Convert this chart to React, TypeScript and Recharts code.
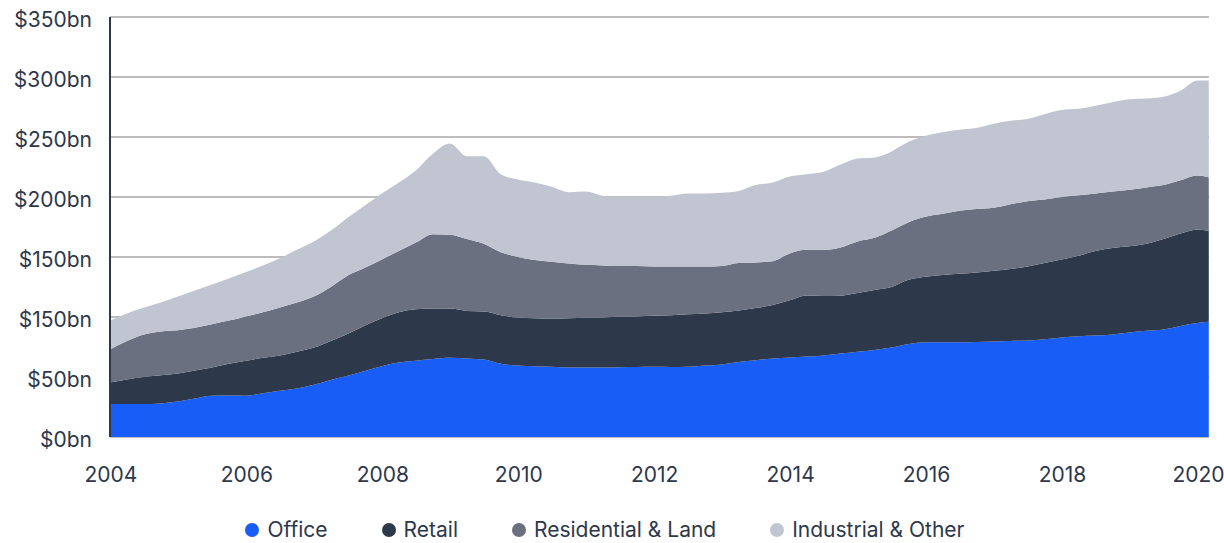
import { AreaChart, Area, XAxis, YAxis, CartesianGrid } from 'recharts'

// quarterly observations, last point is March 2020
const periods = [
  '2004-01', '2004-04', '2004-07', '2004-10', '2005-01', '2005-04', '2005-07', '2005-10',
  '2006-01', '2006-04', '2006-07', '2006-10', '2007-01', '2007-04', '2007-07', '2007-10',
  '2008-01', '2008-04', '2008-07', '2008-10', '2009-01', '2009-04', '2009-07', '2009-10',
  '2010-01', '2010-04', '2010-07', '2010-10', '2011-01', '2011-04', '2011-07', '2011-10',
  '2012-01', '2012-04', '2012-07', '2012-10', '2013-01', '2013-04', '2013-07', '2013-10',
  '2014-01', '2014-04', '2014-07', '2014-10', '2015-01', '2015-04', '2015-07', '2015-10',
  '2016-01', '2016-04', '2016-07', '2016-10', '2017-01', '2017-04', '2017-07', '2017-10',
  '2018-01', '2018-04', '2018-07', '2018-10', '2019-01', '2019-04', '2019-07', '2019-10',
  '2020-01', '2020-03',
]

const office = [
  27.5, 27.5, 27.5, 28, 29.5, 32, 34.4, 34.5, 34.4, 36.5, 38.5, 40.5, 43.5, 47.5, 51, 55,
  59, 62, 63.5, 65, 66, 65.5, 64.5, 61, 59.5, 59, 58.5, 58, 58, 58, 58.2, 58.4,
  58.5, 58.3, 58.5, 59.5, 60.5, 62.5, 64, 65.5, 66.3, 67, 68, 69.5, 71, 72.5, 74.5, 77.5,
  79, 79, 79, 79.2, 79.5, 80, 80.5, 81.5, 83, 84, 84.5, 85.5, 87, 88.5, 89.5, 92.5,
  95, 96,
]

const retail = [
  18, 20.5, 22.5, 23.5, 23.5, 23.5, 23.6, 26.5, 29.1, 29.5, 29.5, 30.5, 31, 32.5, 35, 38,
  40, 42, 43, 42, 41, 39.5, 40, 40.5, 40, 40, 40.3, 41, 41.3, 41.6, 42, 42.1,
  42.5, 43.2, 43.7, 43.5, 43.5, 43, 43.5, 44.5, 47.7, 51, 49.6, 48.3, 49, 50, 50.5, 53.5,
  54.5, 56, 57, 57.8, 59, 60, 61.5, 63.5, 65, 67, 70.5, 72, 72, 72.5, 75.5, 77,
  78, 75.6,
]

const residential = [
  27.5, 32, 35.5, 36.5, 36, 35.5, 36, 36, 37, 38, 40, 41, 42.5, 45, 48.5, 48,
  49, 51, 55.5, 62, 61.5, 60, 56.5, 52.5, 50.5, 48.5, 47.2, 45.5, 44.2, 43.4, 42.3, 42,
  41, 40.5, 39.8, 39, 38.5, 39.5, 38, 36.5, 39, 38, 38.4, 40.2, 43, 43.5, 47, 48,
  50, 51, 52.5, 53, 52.5, 54, 54.5, 53, 52, 50.5, 48, 47, 47, 47, 45, 44.5,
  45, 44.9,
]

const industrial = [
  24, 23, 22.5, 24, 28, 31, 33, 35, 37, 39, 41, 44, 46, 47, 48.5, 52,
  55, 57, 60, 67, 76, 69, 73, 65, 64.5, 64.5, 62.5, 59.5, 61, 58, 57.5, 57.5,
  58, 59, 61, 61, 61, 60, 64.5, 65.5, 64, 63, 65, 69, 69, 67, 66, 67,
  67.5, 68, 67.5, 67.5, 70, 69.5, 68.5, 71, 72.5, 72, 73, 74.5, 75.5, 74, 73.5, 74.5,
  79, 80.5,
]

const yTicks = [0, 50, 100, 150, 200, 250, 300, 350]
// labels as printed on the source chart (100 is labelled $150bn there)
const yTickLabels = ['$0bn', '$50bn', '$150bn', '$150bn', '$200bn', '$250bn', '$300bn', '$350bn']
const xTicks = [2004, 2006, 2008, 2010, 2012, 2014, 2016, 2018, 2020]

const seriesList = [
  { key: 'office', name: 'Office', color: '#175DF6' },
  { key: 'retail', name: 'Retail', color: '#2E384B' },
  { key: 'residential', name: 'Residential & Land', color: '#6A7080' },
  { key: 'industrial', name: 'Industrial & Other', color: '#C0C5D1' },
]

const toYear = (p: string) => {
  const [y, m] = p.split('-').map(Number)
  return y + (m - 1) / 12
}

const data = periods.map((p, i) => ({
  t: toYear(p),
  office: office[i],
  retail: retail[i],
  residential: residential[i],
  industrial: industrial[i],
}))

const FONT = 'Inter, "Noto Sans", sans-serif'
const TEXT = '#2E384B'

function YTick({ x, y, payload }: any) {
  const idx = yTicks.indexOf(payload.value)
  return (
    <text x={x} y={y + 10} textAnchor="end" fontSize={21} fontFamily={FONT} fill={TEXT}>
      {yTickLabels[idx] ?? payload.value}
    </text>
  )
}

function XTick({ x, y, payload }: any) {
  return (
    <text x={x + 1} y={y + 43} textAnchor="middle" fontSize={21} fontFamily={FONT} fill={TEXT}>
      {payload.value}
    </text>
  )
}

export default function App() {
  return (
    <div style={{ position: 'absolute', left: 0, top: 0, width: 1224, height: 543, background: '#fff' }}>
      <AreaChart width={1224} height={500} data={data} margin={{ top: 17, right: 15, left: 0, bottom: 0 }}>
        <CartesianGrid horizontal vertical={false} stroke="#BDBDBD" strokeWidth={2} />
        <XAxis
          dataKey="t"
          type="number"
          domain={[2004, 2020.17]}
          ticks={xTicks}
          tick={<XTick />}
          tickLine={false}
          axisLine={false}
          tickSize={0}
          height={63}
          interval={0}
        />
        <YAxis
          domain={[0, 350]}
          ticks={yTicks}
          tick={<YTick />}
          tickLine={false}
          tickSize={0}
          tickMargin={18}
          axisLine={{ stroke: TEXT, strokeWidth: 2 }}
          width={110}
          interval={0}
        />
        {seriesList.map((s) => (
          <Area
            key={s.key}
            dataKey={s.key}
            name={s.name}
            stackId="a"
            type="monotone"
            stroke="none"
            fill={s.color}
            fillOpacity={1}
            isAnimationActive={false}
          />
        ))}
      </AreaChart>
      <div
        style={{
          position: 'absolute',
          top: 517,
          left: 0,
          width: 1210,
          display: 'flex',
          justifyContent: 'center',
          gap: 54,
          fontFamily: FONT,
          fontSize: 21,
          color: TEXT,
        }}
      >
        {seriesList.map((s) => (
          <div key={s.key} style={{ display: 'flex', alignItems: 'center', gap: 8 }}>
            <span style={{ width: 14, height: 14, borderRadius: '50%', background: s.color, display: 'inline-block' }} />
            <span>{s.name}</span>
          </div>
        ))}
      </div>
    </div>
  )
}
